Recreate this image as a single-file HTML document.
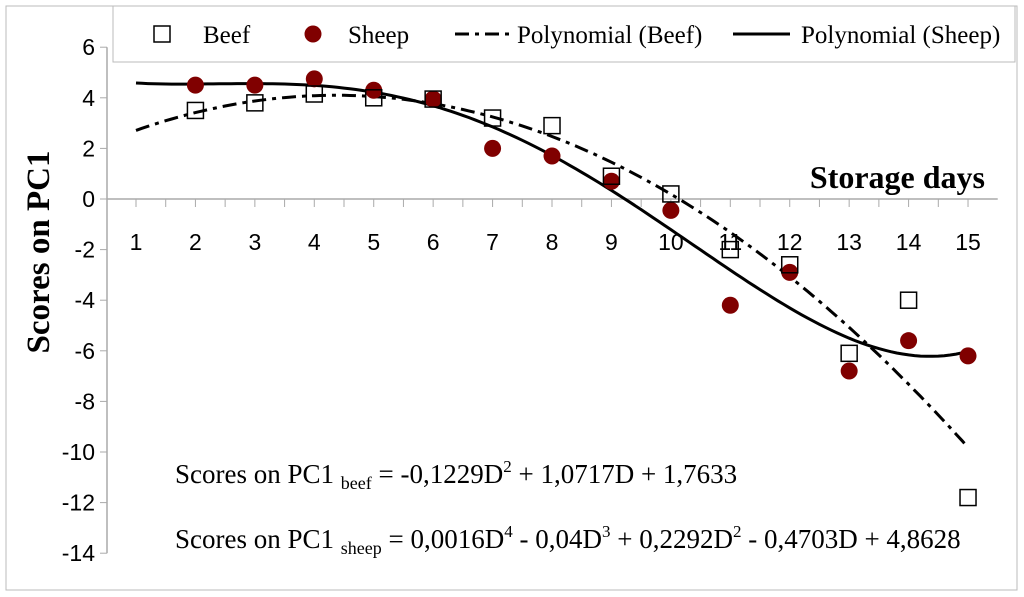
<!DOCTYPE html>
<html><head><meta charset="utf-8"><style>
body{margin:0;background:#fff}
svg{display:block;font-family:"Liberation Sans",sans-serif}
.serif{font-family:"Liberation Serif",serif}
</style></head><body>
<svg id="c" width="1024" height="597">
<rect x="6" y="6" width="1011" height="584" fill="#fff" stroke="#bbb"/>
<g id="ax"></g>
<g id="marks"></g>
<text class="serif" x="985" y="188" font-size="32" font-weight="bold" text-anchor="end">Storage days</text>
<text class="serif" transform="translate(49,252) rotate(-90)" font-size="33" font-weight="bold" text-anchor="middle">Scores on PC1</text>
<g>
<rect x="113" y="6" width="902" height="56" fill="#fff" stroke="#bbb"/>
<rect x="154" y="26" width="16" height="16" fill="#fff" stroke="#000" stroke-width="1.5"/>
<text class="serif" x="203" y="43" font-size="25">Beef</text>
<circle cx="313" cy="34" r="8.5" fill="#800000"/>
<text class="serif" x="348" y="43" font-size="25">Sheep</text>
<line x1="455" y1="34" x2="510" y2="34" stroke="#000" stroke-width="3" stroke-dasharray="14,6,4,6"/>
<text class="serif" x="517" y="43" font-size="25">Polynomial (Beef)</text>
<line x1="733" y1="34" x2="790" y2="34" stroke="#000" stroke-width="3"/>
<text class="serif" x="801" y="43" font-size="25">Polynomial (Sheep)</text>
</g>
<text class="serif" x="175" y="483" font-size="27">Scores on PC1 <tspan font-size="18" dy="6">beef</tspan><tspan dy="-6"> = -0,1229D</tspan><tspan font-size="17" dy="-11">2</tspan><tspan dy="11"> + 1,0717D + 1,7633</tspan></text>
<text class="serif" x="175" y="548" font-size="27">Scores on PC1 <tspan font-size="18" dy="6">sheep</tspan><tspan dy="-6"> = 0,0016D</tspan><tspan font-size="17" dy="-11">4</tspan><tspan dy="11"> - 0,04D</tspan><tspan font-size="17" dy="-11">3</tspan><tspan dy="11"> + 0,2292D</tspan><tspan font-size="17" dy="-11">2</tspan><tspan dy="11"> - 0,4703D + 4,8628</tspan></text>
</svg>
<script>
const days=[1,2,3,4,5,6,7,8,9,10,11,12,13,14,15];
const beef=[null,3.5,3.8,4.15,4.0,3.95,3.2,2.9,0.9,0.2,-2.0,-2.6,-6.1,-4.0,-11.8];
const sheep=[null,4.5,4.5,4.75,4.3,3.95,2.0,1.7,0.7,-0.45,-4.2,-2.9,-6.8,-5.6,-6.2];
const yTicks=[6,4,2,0,-2,-4,-6,-8,-10,-12,-14];
const beefCoef=[1.7633,1.0717,-0.1229];
const sheepCoef=[4.8628,-0.4703,0.2292,-0.04004,0.001575];
const NS="http://www.w3.org/2000/svg";
const X=d=>136+(d-1)*59.43;
const Y=v=>199-v*25.3;
function mk(t,a,p){const e=document.createElementNS(NS,t);for(const k in a)e.setAttribute(k,a[k]);p.appendChild(e);return e;}
const ax=document.getElementById('ax'),mg=document.getElementById('marks');
const yl=mk('line',{x1:107,y1:Y(6),x2:107,y2:Y(-14),stroke:'#aaa','stroke-width':1.5},ax);


const xl=mk('line',{x1:107,y1:Y(0),x2:X(15.5),y2:Y(0),stroke:'#aaa','stroke-width':1.5},ax);


yTicks.forEach(v=>{
 mk('line',{x1:100,y1:Y(v),x2:107,y2:Y(v),stroke:'#aaa'},ax);
 const t=mk('text',{x:95,y:Y(v)+8,'font-size':23,'text-anchor':'end'},ax);t.textContent=v;
 
 
});
for(let d=1;d<=15.01;d+=0.5)mk('line',{x1:X(d),y1:Y(0),x2:X(d),y2:Y(0)+8,stroke:'#aaa'},ax);
days.forEach(d=>{
 const t=mk('text',{x:X(d),y:250,'font-size':23,'text-anchor':'middle'},ax);t.textContent=d;
 
 
});
function poly(c,x){return c.reduce((s,a,i)=>s+a*Math.pow(x,i),0);}
function curve(c){let p='';for(let x=1;x<=15.001;x+=0.1)p+=(p?'L':'M')+X(x).toFixed(1)+','+Y(poly(c,x)).toFixed(1);return p;}
const pb=mk('path',{d:curve(beefCoef),fill:'none',stroke:'#000','stroke-width':3,'stroke-dasharray':'14,6,4,6'},mg);


const ps=mk('path',{d:curve(sheepCoef),fill:'none',stroke:'#000','stroke-width':3},mg);


days.forEach((d,i)=>{
 if(sheep[i]!==null){const c=mk('circle',{cx:X(d),cy:Y(sheep[i]),r:8.5,fill:'#800000'},mg);
 
 }
 if(beef[i]!==null){const r=mk('rect',{x:X(d)-8,y:Y(beef[i])-8,width:16,height:16,fill:'none',stroke:'#000','stroke-width':1.5},mg);
 
 }
});
</script>
</body></html>
